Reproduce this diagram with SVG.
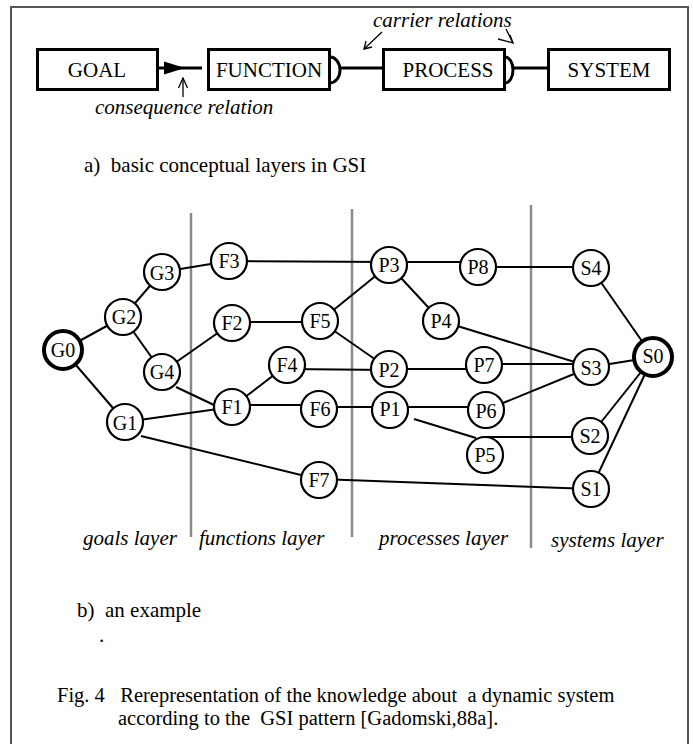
<svg xmlns="http://www.w3.org/2000/svg" width="693" height="744" viewBox="0 0 693 744" xml:space="preserve" font-family="'Liberation Serif','Times New Roman',serif">
<style>
text{font-family:"Liberation Serif","Times New Roman",serif;fill:#000;white-space:pre}
.t{font-size:21px}
.cap{font-size:20.5px}
.it{font-size:21px;font-style:italic}
.box{fill:#fff;stroke:#000;stroke-width:3}
.lbl{font-size:21px;text-anchor:middle}
.n circle{fill:#fff;stroke:#000;stroke-width:2.2}
.n.thick circle{stroke-width:4}
.n text{font-size:20px;text-anchor:middle}
.e line{stroke:#000;stroke-width:2;fill:none}
.sep{stroke:#8a8a8a;stroke-width:2.5}
.ptr{stroke:#000;stroke-width:1.3;fill:none}
</style>
<rect width="693" height="744" fill="#fff"/>
<path d="M11,744 V7 H688 V744" fill="none" stroke="#555" stroke-width="2"/>
<g id="connectors-a">
<line x1="158" y1="68" x2="202" y2="68" stroke="#000" stroke-width="3"/>
<polygon points="164,61.5 185,68 164,74.5" fill="#000"/>
<path d="M330,57 A10 13 0 0 1 330,83" fill="none" stroke="#000" stroke-width="3"/>
<line x1="340" y1="68" x2="383" y2="68" stroke="#000" stroke-width="3"/>
<path d="M505,57 A8 13 0 0 1 505,83" fill="none" stroke="#000" stroke-width="3"/>
<line x1="512" y1="68" x2="548" y2="68" stroke="#000" stroke-width="3"/>
</g>
<g id="goal"><rect class="box" x="37.5" y="49.5" width="120" height="40"/><text class="lbl" x="97" y="77">GOAL</text></g>
<g id="function"><rect class="box" x="208.5" y="49.5" width="121" height="40"/><text class="lbl" x="269" y="77">FUNCTION</text></g>
<g id="process"><rect class="box" x="383.5" y="49.5" width="121" height="40"/><text class="lbl" x="448" y="77">PROCESS</text></g>
<g id="system"><rect class="box" x="548.5" y="49.5" width="121" height="40"/><text class="lbl" x="609" y="77">SYSTEM</text></g>
<g id="annotations-a">
<text class="it" x="373" y="27">carrier relations</text>
<line class="ptr" x1="382" y1="32" x2="364" y2="49"/>
<polyline class="ptr" points="366,41 364,49 372,47"/>
<line class="ptr" x1="506" y1="29" x2="513" y2="43"/>
<polyline class="ptr" points="498,39 513,43 510,35"/>
<text class="it" x="95" y="114">consequence relation</text>
<line class="ptr" x1="183" y1="97" x2="183" y2="78"/>
<polyline class="ptr" points="178.5,88 183,78 187.5,88"/>
<text class="t" x="84" y="172">a)  basic conceptual layers in GSI</text>
</g>
<g id="separators">
<line class="sep" x1="191" y1="213" x2="191" y2="537"/>
<line class="sep" x1="352" y1="209" x2="352" y2="537"/>
<line class="sep" x1="531" y1="205" x2="531" y2="548"/>
</g>
<g id="connectors" class="e">
<line x1="63" y1="350" x2="123" y2="317"/>
<line x1="63" y1="350" x2="125" y2="422"/>
<line x1="123" y1="317" x2="162" y2="272"/>
<line x1="123" y1="317" x2="162" y2="372"/>
<line x1="162" y1="272" x2="229" y2="261"/>
<line x1="162" y1="372" x2="232" y2="323"/>
<line x1="176" y1="387" x2="214" y2="405"/>
<line x1="125" y1="422" x2="232" y2="407"/>
<line x1="141" y1="436" x2="301" y2="475"/>
<line x1="229" y1="261" x2="389" y2="262"/>
<line x1="232" y1="322" x2="320" y2="322"/>
<line x1="320" y1="321" x2="389" y2="265"/>
<line x1="320" y1="321" x2="389" y2="369"/>
<line x1="232" y1="407" x2="287" y2="365"/>
<line x1="287" y1="369" x2="389" y2="370"/>
<line x1="232" y1="405" x2="319" y2="405"/>
<line x1="319" y1="407" x2="390" y2="407"/>
<line x1="319" y1="479" x2="591" y2="489"/>
<line x1="389" y1="262" x2="478" y2="262"/>
<line x1="478" y1="267" x2="591" y2="267"/>
<line x1="389" y1="265" x2="441" y2="321"/>
<line x1="441" y1="321" x2="591" y2="367"/>
<line x1="389" y1="369" x2="484" y2="369"/>
<line x1="484" y1="364" x2="591" y2="364"/>
<line x1="390" y1="407" x2="486" y2="407"/>
<line x1="486" y1="410" x2="591" y2="367"/>
<line x1="414" y1="419" x2="476" y2="438"/>
<line x1="485" y1="437" x2="590" y2="437"/>
<line x1="591" y1="268" x2="653" y2="357"/>
<line x1="591" y1="367" x2="653" y2="357"/>
<line x1="590" y1="436" x2="653" y2="357"/>
<line x1="591" y1="489" x2="653" y2="357"/>
</g>
<g id="G0" class="n thick"><circle cx="63" cy="350" r="19"/><text x="63" y="357">G0</text></g>
<g id="G2" class="n"><circle cx="123" cy="317" r="18"/><text x="124" y="324">G2</text></g>
<g id="G3" class="n"><circle cx="162" cy="272" r="18"/><text x="162" y="280">G3</text></g>
<g id="G4" class="n"><circle cx="162" cy="372" r="18"/><text x="162" y="379">G4</text></g>
<g id="G1" class="n"><circle cx="125" cy="422" r="18"/><text x="125" y="430">G1</text></g>
<g id="F3" class="n"><circle cx="229" cy="261" r="18"/><text x="229" y="268">F3</text></g>
<g id="F2" class="n"><circle cx="232" cy="323" r="18"/><text x="232" y="330">F2</text></g>
<g id="F5" class="n"><circle cx="320" cy="321" r="18"/><text x="320" y="328">F5</text></g>
<g id="F4" class="n"><circle cx="287" cy="365" r="18"/><text x="287" y="372">F4</text></g>
<g id="F1" class="n"><circle cx="232" cy="407" r="18"/><text x="232" y="414">F1</text></g>
<g id="F6" class="n"><circle cx="319" cy="409" r="18"/><text x="320" y="416">F6</text></g>
<g id="F7" class="n"><circle cx="319" cy="480" r="18"/><text x="319" y="487">F7</text></g>
<g id="P3" class="n"><circle cx="389" cy="265" r="18"/><text x="389" y="272">P3</text></g>
<g id="P8" class="n"><circle cx="478" cy="267" r="18"/><text x="478" y="274">P8</text></g>
<g id="P4" class="n"><circle cx="441" cy="321" r="18"/><text x="441" y="328">P4</text></g>
<g id="P2" class="n"><circle cx="389" cy="369" r="18"/><text x="389" y="377">P2</text></g>
<g id="P7" class="n"><circle cx="484" cy="365" r="18"/><text x="484" y="372">P7</text></g>
<g id="P1" class="n"><circle cx="390" cy="410" r="18"/><text x="390" y="416">P1</text></g>
<g id="P6" class="n"><circle cx="486" cy="410" r="18"/><text x="486" y="418">P6</text></g>
<g id="P5" class="n"><circle cx="485" cy="455" r="18"/><text x="485" y="462">P5</text></g>
<g id="S4" class="n"><circle cx="591" cy="268" r="18"/><text x="591" y="275">S4</text></g>
<g id="S3" class="n"><circle cx="591" cy="367" r="18"/><text x="591" y="375">S3</text></g>
<g id="S0" class="n thick"><circle cx="653" cy="357" r="19"/><text x="653" y="363">S0</text></g>
<g id="S2" class="n"><circle cx="590" cy="436" r="18"/><text x="590" y="443">S2</text></g>
<g id="S1" class="n"><circle cx="591" cy="489" r="18"/><text x="591" y="496">S1</text></g>
<g id="labels-b">
<text class="it" x="83" y="545">goals layer</text>
<text class="it" x="199" y="545">functions layer</text>
<text class="it" x="379" y="545">processes layer</text>
<text class="it" x="551" y="547">systems layer</text>
<text class="t" x="77" y="617">b)  an example</text>
<text class="t" x="99" y="642">.</text>
<text class="cap" x="57" y="702">Fig. 4   Rerepresentation of the knowledge about  a dynamic system</text>
<text class="cap" x="118" y="725">according to the  GSI pattern [Gadomski,88a].</text>
</g>
</svg>
